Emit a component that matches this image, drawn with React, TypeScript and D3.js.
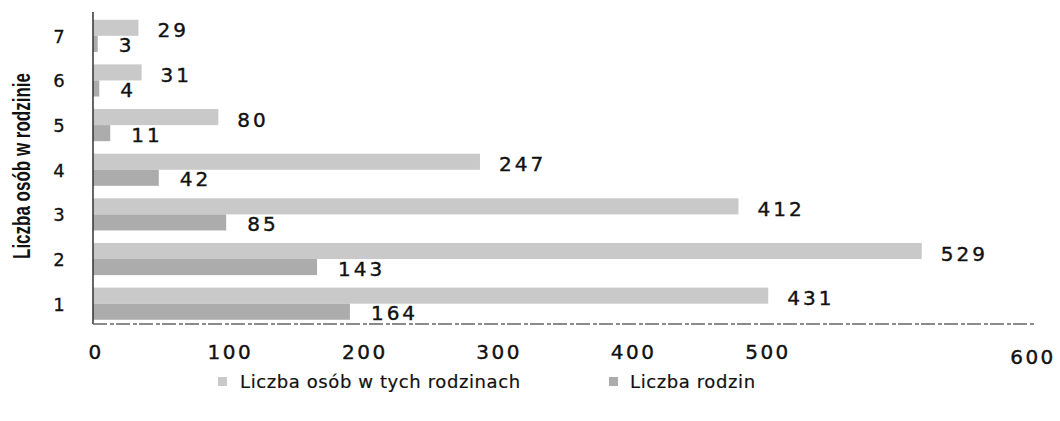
import React from "react";
import * as d3 from "d3";

const categories = ["7", "6", "5", "4", "3", "2", "1"];
const osobValues = [29, 31, 80, 247, 412, 529, 431];
const rodzinValues = [3, 4, 11, 42, 85, 143, 164];
const tickLabels = ["0", "100", "200", "300", "400", "500", "600"];
const seriesNames = ["Liczba osób w tych rodzinach", "Liczba rodzin"];
const yTitle = "Liczba osób w rodzinie";

const W = 1060;
const H = 421;
const COL_OSOB = "#c9c9c9";
const COL_RODZ = "#acacac";
const numFont = "'DejaVu Sans', Verdana, sans-serif";

export default function App() {
  const x = d3.scaleLinear().domain([0, 600]).range([93, 1033]);
  // tick label placement as in the reference (0–500 evenly, 600 at axis end)
  const tickX = d3.scaleLinear().domain([0, 500]).range([96, 768]);
  const y = d3
    .scaleBand<string>()
    .domain(categories)
    .range([13.5, 326])
    .paddingInner(0.28)
    .paddingOuter(0.14);
  const sub = d3
    .scaleBand<string>()
    .domain(["osob", "rodz"])
    .range([0, y.bandwidth()]);

  const plotBottom = 324;

  return (
    <svg
      width={W}
      height={H}
      style={{ position: "absolute", left: 0, top: 0, background: "#fff" }}
    >
      {categories.map((c, i) => {
        const y0 = y(c)!;
        const yo = y0 + sub("osob")!;
        const yr = y0 + sub("rodz")!;
        const bh = sub.bandwidth();
        return (
          <g key={c}>
            <rect x={x(0)} y={yo} width={x(osobValues[i]) - x(0)} height={bh} fill={COL_OSOB} />
            <rect x={x(0)} y={yr} width={x(rodzinValues[i]) - x(0)} height={bh} fill={COL_RODZ} />
            <text
              x={x(osobValues[i]) + 19}
              y={yo + bh / 2 + 4}
              dominantBaseline="middle"
              fontFamily={numFont}
              fontSize={20}
              letterSpacing={3}
              fill="#111"
              stroke="#111"
              strokeWidth={0.4}
            >
              {osobValues[i]}
            </text>
            <text
              x={x(rodzinValues[i]) + 21}
              y={yr + bh / 2 + 3}
              dominantBaseline="middle"
              fontFamily={numFont}
              fontSize={20}
              letterSpacing={3}
              fill="#111"
              stroke="#111"
              strokeWidth={0.4}
            >
              {rodzinValues[i]}
            </text>
            <text
              x={59}
              y={y0 + y.bandwidth() / 2 + 2}
              textAnchor="middle"
              dominantBaseline="middle"
              fontFamily={numFont}
              fontSize={18}
              fill="#111"
              stroke="#111"
              strokeWidth={0.3}
            >
              {c}
            </text>
          </g>
        );
      })}

      {/* axes */}
      <line x1={93} x2={93} y1={12} y2={plotBottom} stroke="#333" strokeWidth={1.5} />
      <line x1={93} x2={1035} y1={plotBottom} y2={plotBottom} stroke="#666" strokeWidth={1.5} strokeDasharray="14 3 4 2" />

      {tickLabels.map((t) => {
        const v = +t;
        const tx = v === 600 ? x(600) : tickX(v);
        return (
          <text
            key={t}
            x={tx}
            y={v === 600 ? 358 : 353}
            textAnchor="middle"
            dominantBaseline="middle"
            fontFamily={numFont}
            fontSize={20}
            letterSpacing={2.5}
            fill="#111"
            stroke="#111"
            strokeWidth={0.4}
          >
            {t}
          </text>
        );
      })}

      <text
        transform="translate(24,166) rotate(-90)"
        textAnchor="middle"
        dominantBaseline="middle"
        fontFamily="'Liberation Sans', Arial, sans-serif"
        fontWeight="bold"
        fontSize={23}
        textLength={186}
        lengthAdjust="spacingAndGlyphs"
        fill="#111"
      >
        {yTitle}
      </text>

      {/* legend */}
      <rect x={218} y={377} width={9} height={9} fill={COL_OSOB} />
      <text x={240} y={383} dominantBaseline="middle" fontFamily={numFont} fontSize={18} letterSpacing={0.6} fill="#111" stroke="#111" strokeWidth={0.2}>
        {seriesNames[0]}
      </text>
      <rect x={609} y={377} width={9} height={9} fill={COL_RODZ} />
      <text x={630} y={383} dominantBaseline="middle" fontFamily={numFont} fontSize={18} letterSpacing={0.6} fill="#111" stroke="#111" strokeWidth={0.2}>
        {seriesNames[1]}
      </text>
    </svg>
  );
}
